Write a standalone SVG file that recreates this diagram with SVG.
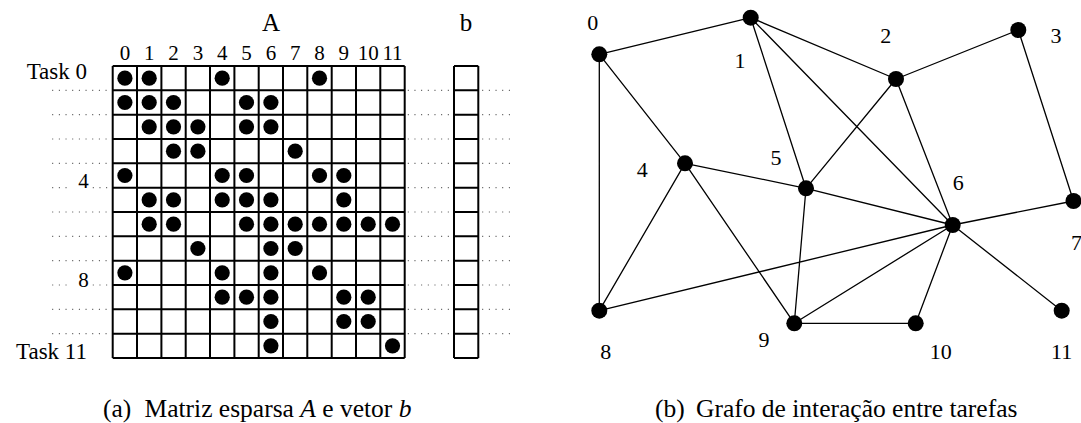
<svg xmlns="http://www.w3.org/2000/svg" width="1081" height="423" viewBox="0 0 1081 423" font-family="'Liberation Serif', 'DejaVu Serif', serif">
  <style>
    text, tspan { font-family: "Liberation Serif", "DejaVu Serif", serif; fill: #000; }
    .lbl { font-size: 23px; }
    .col { font-size: 21px; text-anchor: middle; }
    .row { font-size: 21px; text-anchor: middle; }
    .head { font-size: 25px; text-anchor: middle; }
    .num { font-size: 22px; text-anchor: middle; }
    .cap { font-size: 25.5px; }
    .grid { fill: none; stroke: #000; stroke-width: 2; }
    .dots { fill: none; stroke: #555; stroke-width: 1.2; stroke-dasharray: 1 5.67; }
    .edge { fill: none; stroke: #000; stroke-width: 1.3; }
    .nz { fill: #000; }
    .node { fill: #000; }
  </style>
  <rect width="1081" height="423" fill="#fff"/>

  <!-- (a) sparse matrix A and vector b -->
  <g id="matrix">
    <text class="head" x="271" y="31">A</text>
    <text class="head" x="466" y="31">b</text>

    <!-- column indices -->
    <g id="col-labels">
      <text class="col" x="124.9" y="60">0</text>
      <text class="col" x="149.2" y="60">1</text>
      <text class="col" x="173.5" y="60">2</text>
      <text class="col" x="197.9" y="60">3</text>
      <text class="col" x="222.2" y="60">4</text>
      <text class="col" x="246.5" y="60">5</text>
      <text class="col" x="270.9" y="60">6</text>
      <text class="col" x="295.2" y="60">7</text>
      <text class="col" x="319.5" y="60">8</text>
      <text class="col" x="343.8" y="60">9</text>
      <text class="col" x="368.2" y="60">10</text>
      <text class="col" x="392.5" y="60">11</text>
    </g>

    <!-- row labels -->
    <text class="lbl" x="87" y="79" text-anchor="end">Task 0</text>
    <text class="lbl" x="87" y="359" text-anchor="end">Task 11</text>
    <text class="row" x="83.5" y="188.3">4</text>
    <text class="row" x="83.5" y="286.5">8</text>

    <!-- dotted row separators -->
    <path class="dots" d="M52.2 90.3H107.5M52.2 114.7H107.5M52.2 139H107.5M52.2 163.3H107.5M52.2 187.7H67M92.8 187.7H107.5M52.2 212H107.5M52.2 236.3H107.5M52.2 260.7H107.5M52.2 285H67M92.8 285H107.5M52.2 309.3H107.5M52.2 333.7H107.5"/>
    <path class="dots" d="M407.8 90.3H450M407.8 114.7H450M407.8 139H450M407.8 163.3H450M407.8 187.7H450M407.8 212H450M407.8 236.3H450M407.8 260.7H450M407.8 285H450M407.8 309.3H450M407.8 333.7H450"/>
    <path class="dots" d="M482.2 90.3H510M482.2 114.7H510M482.2 139H510M482.2 163.3H510M482.2 187.7H510M482.2 212H510M482.2 236.3H510M482.2 260.7H510M482.2 285H510M482.2 309.3H510M482.2 333.7H510"/>

    <!-- 12x12 grid -->
    <path class="grid" d="M112.7 66V358M137 66V358M161.4 66V358M185.7 66V358M210 66V358M234.4 66V358M258.7 66V358M283 66V358M307.3 66V358M331.7 66V358M356 66V358M380.3 66V358M404.7 66V358
      M112.7 66H404.7M112.7 90.3H404.7M112.7 114.7H404.7M112.7 139H404.7M112.7 163.3H404.7M112.7 187.7H404.7M112.7 212H404.7M112.7 236.3H404.7M112.7 260.7H404.7M112.7 285H404.7M112.7 309.3H404.7M112.7 333.7H404.7M112.7 358H404.7"/>

    <!-- vector b -->
    <path class="grid" d="M454 66V358M478.3 66V358M454 66H478.3M454 90.3H478.3M454 114.7H478.3M454 139H478.3M454 163.3H478.3M454 187.7H478.3M454 212H478.3M454 236.3H478.3M454 260.7H478.3M454 285H478.3M454 309.3H478.3M454 333.7H478.3M454 358H478.3"/>

    <!-- nonzero entries -->
    <g id="nonzeros" class="nz">
      <!-- row 0 -->
      <circle cx="124.9" cy="78.2" r="7.6"/><circle cx="149.2" cy="78.2" r="7.6"/><circle cx="222.2" cy="78.2" r="7.6"/><circle cx="319.5" cy="78.2" r="7.6"/>
      <!-- row 1 -->
      <circle cx="124.9" cy="102.5" r="7.6"/><circle cx="149.2" cy="102.5" r="7.6"/><circle cx="173.5" cy="102.5" r="7.6"/><circle cx="246.5" cy="102.5" r="7.6"/><circle cx="270.9" cy="102.5" r="7.6"/>
      <!-- row 2 -->
      <circle cx="149.2" cy="126.8" r="7.6"/><circle cx="173.5" cy="126.8" r="7.6"/><circle cx="197.9" cy="126.8" r="7.6"/><circle cx="246.5" cy="126.8" r="7.6"/><circle cx="270.9" cy="126.8" r="7.6"/>
      <!-- row 3 -->
      <circle cx="173.5" cy="151.2" r="7.6"/><circle cx="197.9" cy="151.2" r="7.6"/><circle cx="295.2" cy="151.2" r="7.6"/>
      <!-- row 4 -->
      <circle cx="124.9" cy="175.5" r="7.6"/><circle cx="222.2" cy="175.5" r="7.6"/><circle cx="246.5" cy="175.5" r="7.6"/><circle cx="319.5" cy="175.5" r="7.6"/><circle cx="343.8" cy="175.5" r="7.6"/>
      <!-- row 5 -->
      <circle cx="149.2" cy="199.8" r="7.6"/><circle cx="173.5" cy="199.8" r="7.6"/><circle cx="222.2" cy="199.8" r="7.6"/><circle cx="246.5" cy="199.8" r="7.6"/><circle cx="270.9" cy="199.8" r="7.6"/><circle cx="343.8" cy="199.8" r="7.6"/>
      <!-- row 6 -->
      <circle cx="149.2" cy="224.2" r="7.6"/><circle cx="173.5" cy="224.2" r="7.6"/><circle cx="246.5" cy="224.2" r="7.6"/><circle cx="270.9" cy="224.2" r="7.6"/><circle cx="295.2" cy="224.2" r="7.6"/><circle cx="319.5" cy="224.2" r="7.6"/><circle cx="343.8" cy="224.2" r="7.6"/><circle cx="368.2" cy="224.2" r="7.6"/><circle cx="392.5" cy="224.2" r="7.6"/>
      <!-- row 7 -->
      <circle cx="197.9" cy="248.5" r="7.6"/><circle cx="270.9" cy="248.5" r="7.6"/><circle cx="295.2" cy="248.5" r="7.6"/>
      <!-- row 8 -->
      <circle cx="124.9" cy="272.8" r="7.6"/><circle cx="222.2" cy="272.8" r="7.6"/><circle cx="270.9" cy="272.8" r="7.6"/><circle cx="319.5" cy="272.8" r="7.6"/>
      <!-- row 9 -->
      <circle cx="222.2" cy="297.2" r="7.6"/><circle cx="246.5" cy="297.2" r="7.6"/><circle cx="270.9" cy="297.2" r="7.6"/><circle cx="343.8" cy="297.2" r="7.6"/><circle cx="368.2" cy="297.2" r="7.6"/>
      <!-- row 10 -->
      <circle cx="270.9" cy="321.5" r="7.6"/><circle cx="343.8" cy="321.5" r="7.6"/><circle cx="368.2" cy="321.5" r="7.6"/>
      <!-- row 11 -->
      <circle cx="270.9" cy="345.8" r="7.6"/><circle cx="392.5" cy="345.8" r="7.6"/>
    </g>

    <text class="cap" x="103" y="417">(a)<tspan x="144.5">Matriz esparsa </tspan><tspan font-style="italic">A</tspan> e vetor <tspan font-style="italic">b</tspan></text>
  </g>

  <!-- (b) task interaction graph -->
  <g id="connectors">
    <path class="edge" d="M599.3 54.3L750.7 17.7M599.3 54.3L685 163.3M599.3 54.3L599.3 310.7
      M750.7 17.7L896 79M750.7 17.7L806 188.3M750.7 17.7L952.7 225
      M896 79L1018.3 30M896 79L806 188.3M896 79L952.7 225
      M1018.3 30L1073.5 201
      M685 163.3L806 188.3M685 163.3L599.3 310.7M685 163.3L794.3 323.3
      M806 188.3L952.7 225M806 188.3L794.3 323.3
      M952.7 225L1073.5 201M952.7 225L599.3 310.7M952.7 225L794.3 323.3M952.7 225L915.7 323.3M952.7 225L1061.7 310.7
      M794.3 323.3L915.7 323.3"/>
  </g>

  <g id="node-0"><circle class="node" cx="599.3" cy="54.3" r="8"/><text class="num" x="592.7" y="30">0</text></g>
  <g id="node-1"><circle class="node" cx="750.7" cy="17.7" r="8"/><text class="num" x="740" y="67.5">1</text></g>
  <g id="node-2"><circle class="node" cx="896" cy="79" r="8"/><text class="num" x="885.7" y="42.7">2</text></g>
  <g id="node-3"><circle class="node" cx="1018.3" cy="30" r="8"/><text class="num" x="1056" y="42.7">3</text></g>
  <g id="node-4"><circle class="node" cx="685" cy="163.3" r="8"/><text class="num" x="642.3" y="176.7">4</text></g>
  <g id="node-5"><circle class="node" cx="806" cy="188.3" r="8"/><text class="num" x="776" y="165">5</text></g>
  <g id="node-6"><circle class="node" cx="952.7" cy="225" r="8"/><text class="num" x="958.3" y="190">6</text></g>
  <g id="node-7"><circle class="node" cx="1073.5" cy="201" r="8"/><text class="num" x="1076.5" y="250" text-anchor="start">7</text></g>
  <g id="node-8"><circle class="node" cx="599.3" cy="310.7" r="8"/><text class="num" x="605.7" y="359.3">8</text></g>
  <g id="node-9"><circle class="node" cx="794.3" cy="323.3" r="8"/><text class="num" x="764" y="346.7">9</text></g>
  <g id="node-10"><circle class="node" cx="915.7" cy="323.3" r="8"/><text class="num" x="940.7" y="359.3">10</text></g>
  <g id="node-11"><circle class="node" cx="1061.7" cy="310.7" r="8"/><text class="num" x="1061.7" y="359.3">11</text></g>

  <text class="cap" x="655" y="417">(b)<tspan x="696">Grafo de interação entre tarefas</tspan></text>
</svg>
